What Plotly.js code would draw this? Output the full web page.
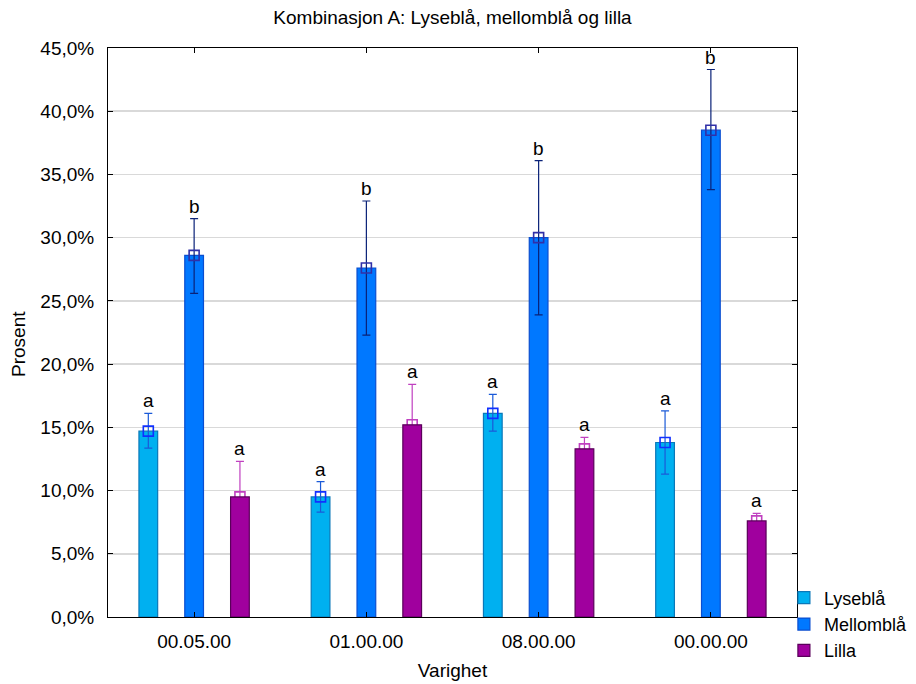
<!DOCTYPE html>
<html>
<head>
<meta charset="utf-8">
<script src="https://cdn.plot.ly/plotly-3.0.1.min.js"></script>
<style>html,body{margin:0;padding:0;background:#fff;}#chart{width:916px;height:684px;}</style>
</head>
<body>
<div id="chart"></div>
<script>
// ---- data ----
const categories = ['00.05.00', '01.00.00', '08.00.00', '00.00.00'];
const seriesNames = ['Lyseblå', 'Mellomblå', 'Lilla'];
const lyseblaMean = [14.7, 9.5, 16.1, 13.8];
const lyseblaUpper = [16.1, 10.7, 17.6, 16.3];
const lyseblaLower = [13.35, 8.3, 14.7, 11.3];
const mellomblaMean = [28.6, 27.6, 30.0, 38.5];
const mellomblaUpper = [31.5, 32.9, 36.1, 43.3];
const mellomblaLower = [25.6, 22.3, 23.9, 33.8];
const lillaMean = [9.5, 15.2, 13.3, 7.6];
const lillaUpper = [12.3, 18.4, 14.2, 8.2];
const lillaLower = [6.7, 12.0, 12.4, 7.0];
const lyseblaLetters = ['a', 'a', 'a', 'a'];
const mellomblaLetters = ['b', 'b', 'b', 'b'];
const lillaLetters = ['a', 'a', 'a', 'a'];

// ---- styles ----
const styles = [
  {fill: '#00b0f0', border: '#0a78b8', err: '#1a5ad8', mk: '#1030ff'},
  {fill: '#0078ff', border: '#0a4ed0', err: '#0a2278', mk: '#3030a8'},
  {fill: '#a0009e', border: '#5a005a', err: '#c040c0', mk: '#c040c0'}
];
const groupOffset = 0.266;
const barWidth = 0.1086;
const FONT = 'Liberation Sans, Arial, sans-serif';
const FS = 19;

const means = [lyseblaMean, mellomblaMean, lillaMean];
const uppers = [lyseblaUpper, mellomblaUpper, lillaUpper];
const lowers = [lyseblaLower, mellomblaLower, lillaLower];
const letters = [lyseblaLetters, mellomblaLetters, lillaLetters];
const idx = categories.map((c, i) => i);

const barTraces = [];
const markTraces = [];
const annotations = [];
seriesNames.forEach((name, k) => {
  const s = styles[k];
  const onTop = (k === 2); // purple bars drawn over their own marker, as in the reference
  barTraces.push({
    type: 'bar', name: name, x: idx, y: means[k],
    width: barWidth, offset: (k - 1) * groupOffset - barWidth / 2,
    xaxis: onTop ? 'x2' : 'x', yaxis: onTop ? 'y2' : 'y',
    marker: {color: s.fill, line: {color: s.border, width: 1.2}},
    legendgroup: name, hoverinfo: 'y'
  });
  const xs = idx.map(i => i + (k - 1) * groupOffset);
  markTraces.push({
    type: 'scatter', mode: 'markers', name: name, x: xs, y: means[k],
    showlegend: false, legendgroup: name,
    marker: {symbol: 'square-open', size: 10, color: s.mk, line: {width: 1.6, color: s.mk}},
    error_y: {
      type: 'data', symmetric: false,
      array: means[k].map((m, i) => uppers[k][i] - m),
      arrayminus: means[k].map((m, i) => m - lowers[k][i]),
      color: s.err, thickness: 1.2, width: 4
    }
  });
  xs.forEach((x, i) => {
    annotations.push({
      x: x, y: uppers[k][i], xref: 'x', yref: 'y', text: letters[k][i],
      showarrow: false, yanchor: 'bottom', yshift: 0,
      font: {family: FONT, size: FS, color: '#000'}
    });
  });
});
annotations.push({
  text: 'Prosent', xref: 'paper', yref: 'paper', x: -0.129, y: 0.48,
  xanchor: 'center', yanchor: 'middle', textangle: -90, showarrow: false,
  font: {family: FONT, size: FS, color: '#000'}
});

const traces = [barTraces[0], barTraces[1], ...markTraces, barTraces[2]];

const layout = {
  width: 916, height: 684,
  margin: {l: 108, r: 119, t: 48, b: 67, pad: 0, autoexpand: false},
  paper_bgcolor: '#fff', plot_bgcolor: '#fff',
  separators: ',.',
  font: {family: FONT, size: FS, color: '#000'},
  title: {text: 'Kombinasjon A: Lyseblå, mellomblå og lilla', x: 0.5, xref: 'paper', y: 0.975, yanchor: 'middle',
          font: {family: FONT, size: FS, color: '#000'}},
  barmode: 'overlay',
  xaxis: {
    type: 'linear', range: [-0.5, 3.5], tickvals: idx, ticktext: categories,
    showgrid: false, zeroline: false, showline: true, linecolor: '#000', linewidth: 1,
    mirror: 'allticks', ticks: 'inside', ticklen: 5, tickcolor: '#000',
    ticklabelstandoff: 7,
    title: {text: 'Varighet', standoff: 12, font: {family: FONT, size: FS}}
  },
  yaxis: {
    range: [0, 45], dtick: 5, tickformat: '.1f', ticksuffix: '%',
    showgrid: true, gridcolor: '#d9d9d9', gridwidth: 1.5, zeroline: false,
    showline: true, linecolor: '#000', linewidth: 1,
    mirror: 'allticks', ticks: 'inside', ticklen: 5, tickcolor: '#000',
    ticklabelstandoff: 9
  },
  xaxis2: {overlaying: 'x', range: [-0.5, 3.5], visible: false, showgrid: false, zeroline: false},
  yaxis2: {overlaying: 'y', range: [0, 45], visible: false, showgrid: false, zeroline: false},
  legend: {
    x: 0.981, xanchor: 'left', y: 0.066, yanchor: 'top', xref: 'paper', yref: 'paper',
    font: {family: FONT, size: 18}, tracegroupgap: 0, itemwidth: 30,
    bgcolor: 'rgba(0,0,0,0)'
  },
  annotations: annotations,
  showlegend: true
};

Plotly.newPlot('chart', traces, layout, {displayModeBar: false, staticPlot: true});
</script>
</body>
</html>
